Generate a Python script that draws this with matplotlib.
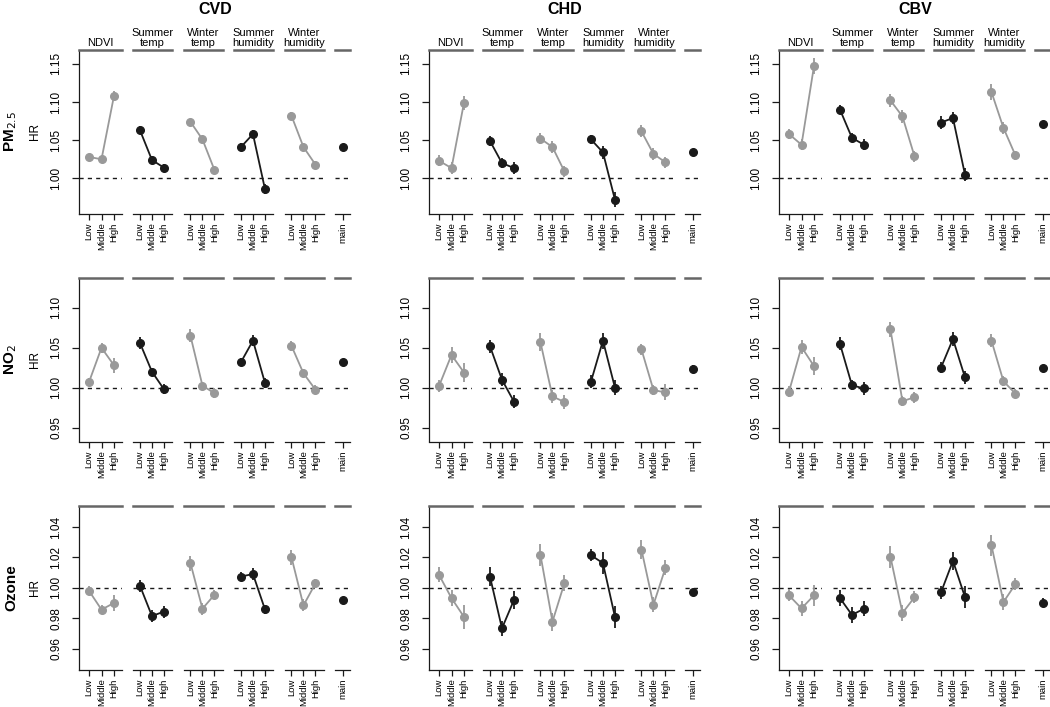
import matplotlib
matplotlib.use("Agg")
import matplotlib.pyplot as plt
from matplotlib import font_manager as fm

# drop the narrow variant so "Liberation Sans" resolves to the regular width
fm.fontManager.ttflist = [f for f in fm.fontManager.ttflist
                          if 'Narrow' not in f.name and 'Narrow' not in f.fname]
plt.rcParams['font.family'] = ['Liberation Sans', 'DejaVu Sans']

# outcomes (columns) and pollutants (rows)
outcomes = ["CVD", "CHD", "CBV"]
pollutants = ["PM$_{2.5}$", "NO$_2$", "Ozone"]
groups = ["NDVI", "Summer\ntemp", "Winter\ntemp", "Summer\nhumidity", "Winter\nhumidity", ""]
levels = ["Low", "Middle", "High"]

# HR per group (Low, Middle, High) x 5 modifiers, then main effect
pm25_cvd = [1.028, 1.025, 1.108, 1.063, 1.024, 1.014, 1.074, 1.051, 1.011,
            1.041, 1.058, 0.986, 1.082, 1.041, 1.018, 1.041]
pm25_cvd_ci = [0.004, 0.004, 0.006, 0.005, 0.005, 0.005, 0.004, 0.005, 0.005,
               0.005, 0.005, 0.006, 0.005, 0.005, 0.005, 0.003]
pm25_chd = [1.023, 1.0135, 1.099, 1.049, 1.020, 1.0135, 1.052, 1.041, 1.009,
            1.051, 1.034, 0.972, 1.0615, 1.032, 1.021, 1.035]
pm25_chd_ci = [0.007, 0.008, 0.009, 0.006, 0.006, 0.008, 0.007, 0.008, 0.007,
               0.006, 0.009, 0.010, 0.008, 0.008, 0.007, 0.004]
pm25_cbv = [1.058, 1.044, 1.147, 1.090, 1.053, 1.044, 1.102, 1.081, 1.029,
            1.073, 1.079, 1.005, 1.113, 1.066, 1.030, 1.071]
pm25_cbv_ci = [0.007, 0.007, 0.010, 0.006, 0.006, 0.007, 0.008, 0.008, 0.007,
               0.008, 0.008, 0.008, 0.010, 0.008, 0.006, 0.003]

no2_cvd = [1.007, 1.050, 1.028, 1.056, 1.020, 0.998, 1.065, 1.0025, 0.993,
           1.032, 1.059, 1.006, 1.0525, 1.018, 0.9975, 1.032]
no2_cvd_ci = [0.005, 0.006, 0.009, 0.008, 0.005, 0.006, 0.008, 0.005, 0.006,
              0.005, 0.007, 0.006, 0.006, 0.005, 0.006, 0.004]
no2_chd = [1.002, 1.041, 1.019, 1.052, 1.010, 0.9825, 1.057, 0.989, 0.982,
           1.0075, 1.059, 1.000, 1.048, 0.997, 0.994, 1.023]
no2_chd_ci = [0.008, 0.010, 0.012, 0.008, 0.008, 0.008, 0.011, 0.008, 0.009,
              0.008, 0.010, 0.009, 0.007, 0.006, 0.010, 0.005]
no2_cbv = [0.995, 1.051, 1.027, 1.055, 1.003, 0.999, 1.073, 0.983, 0.988,
           1.025, 1.061, 1.013, 1.059, 1.008, 0.9925, 1.025]
no2_cbv_ci = [0.007, 0.009, 0.011, 0.008, 0.006, 0.008, 0.009, 0.006, 0.007,
              0.007, 0.009, 0.008, 0.008, 0.006, 0.006, 0.004]

o3_cvd = [0.998, 0.9856, 0.990, 1.0013, 0.9814, 0.9843, 1.0162, 0.9862, 0.9954,
          1.0074, 1.009, 0.9858, 1.0201, 0.9884, 1.0028, 0.9919]
o3_cvd_ci = [0.003, 0.003, 0.005, 0.004, 0.004, 0.004, 0.005, 0.004, 0.003,
             0.003, 0.004, 0.003, 0.005, 0.004, 0.003, 0.002]
o3_chd = [1.0085, 0.9932, 0.9808, 1.0074, 0.9733, 0.9919, 1.0216, 0.9777, 1.0031,
          1.0214, 1.0162, 0.9808, 1.0251, 0.9889, 1.0131, 0.9972]
o3_chd_ci = [0.005, 0.005, 0.008, 0.006, 0.005, 0.006, 0.007, 0.006, 0.005,
             0.004, 0.007, 0.007, 0.006, 0.005, 0.005, 0.002]
o3_cbv = [0.995, 0.9864, 0.995, 0.9932, 0.9821, 0.9862, 1.0203, 0.9834, 0.9937,
          0.9969, 1.0177, 0.9939, 1.028, 0.9906, 1.0024, 0.9902]
o3_cbv_ci = [0.004, 0.005, 0.007, 0.005, 0.005, 0.005, 0.007, 0.005, 0.004,
             0.004, 0.006, 0.007, 0.007, 0.005, 0.004, 0.003]

hr = [[pm25_cvd, pm25_chd, pm25_cbv], [no2_cvd, no2_chd, no2_cbv], [o3_cvd, o3_chd, o3_cbv]]
ci = [[pm25_cvd_ci, pm25_chd_ci, pm25_cbv_ci], [no2_cvd_ci, no2_chd_ci, no2_cbv_ci],
      [o3_cvd_ci, o3_chd_ci, o3_cbv_ci]]

ylims = [(0.954, 1.168), (0.9325, 1.1375), (0.9462, 1.0538)]
yticks = [[1.00, 1.05, 1.10, 1.15], [0.95, 1.00, 1.05, 1.10], [0.96, 0.98, 1.00, 1.02, 1.04]]

BLACK = "#1a1a1a"
GRAY = "#999999"
group_colors = [GRAY, BLACK, GRAY, BLACK, GRAY, BLACK]

W, H = 1050, 707
fig = plt.figure(figsize=(W / 100, H / 100), dpi=100)

# pixel layout of one block
group_left = [79, 133, 183.5, 234, 284.5, 335]
group_width = [43, 39, 39, 39, 39, 15]
group_xlim = [(0.2, 3.64), (0.42, 3.67), (0.42, 3.67), (0.42, 3.67), (0.42, 3.67), (0.36, 1.56)]
row_top = [50, 278, 506]
row_h = 163.5

for r in range(3):
    for c in range(3):
        vals = hr[r][c]
        errs = ci[r][c]
        for g in range(6):
            x0 = 350 * c + group_left[g]
            ax = fig.add_axes([x0 / W, 1 - (row_top[r] + row_h) / H,
                               group_width[g] / W, row_h / H])
            ax.set_xlim(*group_xlim[g])
            ax.set_ylim(*ylims[r])
            ax.axhline(1.0, color=BLACK, lw=1.0, ls=(0, (3, 3)), zorder=1)
            if g < 5:
                xs = [1, 2, 3]
                ys = vals[3 * g:3 * g + 3]
                es = errs[3 * g:3 * g + 3]
                ax.errorbar(xs, ys, yerr=es, fmt='o-', color=group_colors[g],
                            ms=5.5, lw=1.3, elinewidth=1.3, capsize=0, zorder=3)
                ax.set_xticks(xs)
                ax.set_xticklabels(levels)
            else:
                ax.errorbar([1], [vals[15]], yerr=[errs[15]], fmt='o', color=BLACK,
                            ms=5.5, elinewidth=1.3, capsize=0, zorder=3)
                ax.set_xticks([1])
                ax.set_xticklabels(["main"])
            ax.tick_params(axis='x', direction='out', length=4.5, width=0.9,
                           labelrotation=90, labelsize=6.8, pad=2, color=BLACK)
            ax.spines['right'].set_visible(False)
            ax.spines['top'].set_color("#666666")
            ax.spines['top'].set_linewidth(1.8)
            ax.spines['bottom'].set_color(BLACK)
            ax.spines['bottom'].set_linewidth(0.9)
            if g == 0:
                ax.spines['left'].set_color(BLACK)
                ax.spines['left'].set_linewidth(0.9)
                ax.set_yticks(yticks[r])
                ax.set_yticklabels(["%.2f" % t for t in yticks[r]], rotation=90, va='center')
                ax.tick_params(axis='y', direction='out', length=5, width=0.9,
                               labelsize=8.5, pad=7, color=BLACK)
            else:
                ax.spines['left'].set_visible(False)
                ax.set_yticks([])
            ax.set_facecolor('none')
            if r == 0 and groups[g]:
                ax.set_title(groups[g], fontsize=8, pad=3, linespacing=1.0)

for c in range(3):
    fig.text((350 * c + 215) / W, 1 - 10 / H, outcomes[c], fontsize=11.5,
             fontweight='bold', ha='center', va='center')

for r in range(3):
    yc = 1 - (row_top[r] + row_h / 2) / H
    fig.text(35 / W, yc, "HR", rotation=90, fontsize=8.5, ha='center', va='center')
    fig.text(11 / W, yc, pollutants[r], rotation=90, fontsize=11, fontweight='bold',
             ha='center', va='center')

fig.savefig("out.png", dpi=100)
